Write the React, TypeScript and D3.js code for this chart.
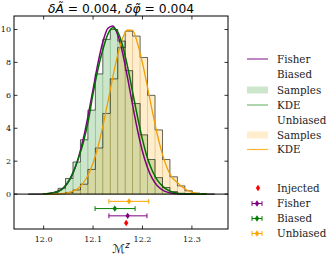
import { useEffect } from 'react';
import * as d3 from 'd3';

// histogram bins (shared edges), heights
const binStart = 11.9688;
const binWidth = 0.01509;
const biasedHist = [0, 0, 0.03, 0.1, 0.35, 0.95, 1.95, 3.3, 5.1, 7.3, 9.4, 10.0, 9.3, 7.5, 5.5, 3.6, 2.1, 1.0, 0.4, 0.15, 0.05, 0, 0, 0, 0];
const unbiasedHist = [0, 0, 0, 0, 0.02, 0.1, 0.25, 0.6, 1.5, 2.8, 4.9, 7.0, 8.9, 9.9, 9.6, 8.3, 6.0, 3.9, 2.1, 1.05, 0.5, 0.2, 0.06, 0, 0];

// curves
const curveX = [12.0, 12.01, 12.02, 12.03, 12.04, 12.05, 12.06, 12.07, 12.08, 12.09, 12.1, 12.11, 12.12, 12.13, 12.14, 12.15, 12.16, 12.17, 12.18, 12.19, 12.2, 12.21, 12.22, 12.23, 12.24, 12.25, 12.26, 12.27, 12.28, 12.29, 12.3, 12.31, 12.32, 12.33];
const fisherY = [0.015, 0.04, 0.09, 0.19, 0.39, 0.75, 1.32, 2.17, 3.33, 4.77, 6.38, 7.97, 9.27, 10.08, 10.22, 9.67, 8.54, 7.03, 5.4, 3.87, 2.59, 1.62, 0.94, 0.51, 0.26, 0.12, 0.05, 0.02, 0.01, 0, 0, 0, 0, 0];
const biasedKde = [0.02, 0.04, 0.09, 0.17, 0.36, 0.75, 1.35, 2.15, 3.1, 4.4, 6.1, 7.6, 8.8, 9.72, 10.1, 9.84, 9.0, 7.71, 6.2, 4.68, 3.31, 2.19, 1.4, 0.85, 0.5, 0.27, 0.13, 0.06, 0.02, 0.01, 0, 0, 0, 0];
const unbiasedKde = [0, 0, 0.01, 0.02, 0.04, 0.09, 0.19, 0.36, 0.67, 1.16, 1.89, 2.89, 4.16, 5.61, 7.12, 8.48, 9.49, 9.97, 9.95, 9.14, 7.96, 6.52, 5.01, 3.62, 2.46, 1.57, 1.0, 0.72, 0.45, 0.25, 0.11, 0.04, 0.01, 0];

// point estimates (lower panel)
const estLabels = ['Unbiased', 'Biased', 'Fisher', 'Injected'];
const estCenter = [12.1727, 12.144, 12.17, 12.167];
const estLow = [12.132, 12.104, 12.132, 12.167];
const estHigh = [12.2125, 12.185, 12.209, 12.167];
const estRow = [-0.44, -0.88, -1.32, -1.76];
const estColor = ['#ffa500', '#008000', '#800080', '#ff0000'];

const xTicks = [12.0, 12.1, 12.2, 12.3];
const yTicks = [0, 2, 4, 6, 8, 10];

const W = 332;
const H = 257;
const L = 14, R = 228, T = 16, B = 229;

const x = d3.scaleLinear().domain([11.94, 12.373]).range([L, R]);
const y = d3.scaleLinear().domain([-2.12, 10.82]).range([B, T]);

const edges = d3.range(biasedHist.length + 1).map(i => binStart + i * binWidth);

function stepPath(h: number[]) {
  const pts: [number, number][] = [[edges[0], 0]];
  edges.forEach((e, i) => pts.push([e, i < h.length ? h[i] : 0]));
  return d3.line<[number, number]>()
    .x(d => x(d[0]))
    .y(d => y(d[1]))
    .curve(d3.curveStepAfter)(pts) || '';
}

const kdeLine = d3.line<number>()
  .x((_, i) => x(curveX[i]))
  .y(d => y(d))
  .curve(d3.curveMonotoneX);

const diamond = 'M0,-3.2 L2.2,0 L0,3.2 L-2.2,0Z';

function ErrBar({ cx, cy, lo, hi, color }: { cx: number; cy: number; lo: number; hi: number; color: string }) {
  return (
    <g>
      {hi > lo && (
        <g stroke={color} strokeWidth={1}>
          <line x1={lo} x2={hi} y1={cy} y2={cy} />
          <line x1={lo} x2={lo} y1={cy - 2.4} y2={cy + 2.4} />
          <line x1={hi} x2={hi} y1={cy - 2.4} y2={cy + 2.4} />
        </g>
      )}
      <path d={diamond} transform={`translate(${cx},${cy})`} fill={color} />
    </g>
  );
}

export default function App() {
  useEffect(() => {
    document.body.style.margin = '0';
  }, []);

  const serif = "'DejaVu Serif', 'Liberation Serif', serif";
  const legendText = 277;

  return (
    <svg width={W} height={H} style={{ display: 'block', background: 'white' }}>
      <defs>
        <clipPath id="plotArea">
          <rect x={L} y={T} width={R - L} height={B - T} />
        </clipPath>
      </defs>

      <g clipPath="url(#plotArea)">
        {biasedHist.map((h, i) => h > 0 && (
          <rect key={'b' + i} x={x(edges[i])} width={x(edges[i + 1]) - x(edges[i])}
            y={y(h)} height={y(0) - y(h)}
            fill="rgba(0,128,0,0.2)" stroke="rgba(0,90,0,0.16)" strokeWidth={0.8} />
        ))}
        {unbiasedHist.map((h, i) => h > 0 && (
          <rect key={'u' + i} x={x(edges[i])} width={x(edges[i + 1]) - x(edges[i])}
            y={y(h)} height={y(0) - y(h)}
            fill="rgba(255,165,0,0.2)" stroke="rgba(150,100,0,0.16)" strokeWidth={0.8} />
        ))}
        <path d={stepPath(biasedHist)} fill="none" stroke="rgba(0,0,0,0.7)" strokeWidth={0.8} />
        <path d={stepPath(unbiasedHist)} fill="none" stroke="rgba(0,0,0,0.7)" strokeWidth={0.8} />
        <path d={kdeLine(fisherY) || ''} fill="none" stroke="#800080" strokeWidth={1.5} />
        <path d={kdeLine(unbiasedKde) || ''} fill="none" stroke="#f0a000" strokeWidth={1.3} />
        <path d={kdeLine(biasedKde) || ''} fill="none" stroke="#007000" strokeWidth={1.5} />

        <line x1={L} x2={R} y1={y(0)} y2={y(0)} stroke="black" strokeWidth={1} />

        {estLabels.map((lab, i) => (
          <ErrBar key={lab} cx={x(estCenter[i])} cy={y(estRow[i])} lo={x(estLow[i])} hi={x(estHigh[i])} color={estColor[i]} />
        ))}
      </g>

      {/* frame and ticks */}
      <rect x={L} y={T} width={R - L} height={B - T} fill="none" stroke="black" strokeWidth={1} />
      {xTicks.map(t => (
        <g key={'xt' + t}>
          <line x1={x(t)} x2={x(t)} y1={B} y2={B - 3.5} stroke="black" strokeWidth={0.8} />
          <line x1={x(t)} x2={x(t)} y1={T} y2={T + 3.5} stroke="black" strokeWidth={0.8} />
          <text x={x(t)} y={242} textAnchor="middle" fontFamily={serif} fontSize={8} fill="#111">{t.toFixed(1)}</text>
        </g>
      ))}
      {yTicks.map(t => (
        <g key={'yt' + t}>
          <line x1={L} x2={L + 3.5} y1={y(t)} y2={y(t)} stroke="black" strokeWidth={0.8} />
          <line x1={R} x2={R - 3.5} y1={y(t)} y2={y(t)} stroke="black" strokeWidth={0.8} />
          <text x={L - 3} y={y(t) + 2.9} textAnchor="end" fontFamily={serif} fontSize={8} fill="#111">{t}</text>
        </g>
      ))}

      {/* title */}
      <text x={(L + R) / 2} y={13} textAnchor="middle" fontFamily="DejaVu Sans" fontSize={12.3} fill="#000">
        <tspan fontStyle="italic">δÃ</tspan>
        <tspan> = 0.004, </tspan>
        <tspan fontStyle="italic">δφ̃</tspan>
        <tspan> = 0.004</tspan>
      </text>

      {/* x label */}
      <text x={(L + R) / 2} y={253} textAnchor="middle" fontFamily="DejaVu Sans" fontSize={12} fill="#111">
        <tspan fontStyle="italic">ℳ</tspan>
        <tspan fontStyle="italic" fontSize={8.5} dy={-5}>z</tspan>
      </text>

      {/* legend */}
      <g fontFamily={serif} fontSize={10.3} fill="#222">
        <line x1={247} x2={268} y1={59} y2={59} stroke="#800080" strokeOpacity={0.8} strokeWidth={1.2} />
        <text x={legendText} y={62.5}>Fisher</text>
        <text x={legendText} y={77.5}>Biased</text>
        <rect x={247} y={86.5} width={21} height={7} fill="rgba(0,128,0,0.2)" />
        <text x={legendText} y={93.5}>Samples</text>
        <line x1={247} x2={268} y1={105} y2={105} stroke="#008000" strokeOpacity={0.55} strokeWidth={1.2} />
        <text x={legendText} y={108.5}>KDE</text>
        <text x={legendText} y={123.5}>Unbiased</text>
        <rect x={247} y={131.5} width={21} height={7} fill="rgba(255,165,0,0.2)" />
        <text x={legendText} y={138.5}>Samples</text>
        <line x1={247} x2={268} y1={149.5} y2={149.5} stroke="#ffa500" strokeOpacity={0.8} strokeWidth={1.2} />
        <text x={legendText} y={153}>KDE</text>

        <path d={diamond} transform="translate(258,188)" fill="#ff0000" />
        <text x={legendText} y={191.5}>Injected</text>
        {[['Fisher', '#800080', 203.5], ['Biased', '#008000', 218.5], ['Unbiased', '#ffa500', 233.5]].map(([lab, c, yy]) => (
          <g key={'leg' + lab}>
            <ErrBar cx={257} cy={yy as number} lo={252} hi={262} color={c as string} />
            <text x={legendText} y={(yy as number) + 3.5}>{lab}</text>
          </g>
        ))}
      </g>
    </svg>
  );
}
